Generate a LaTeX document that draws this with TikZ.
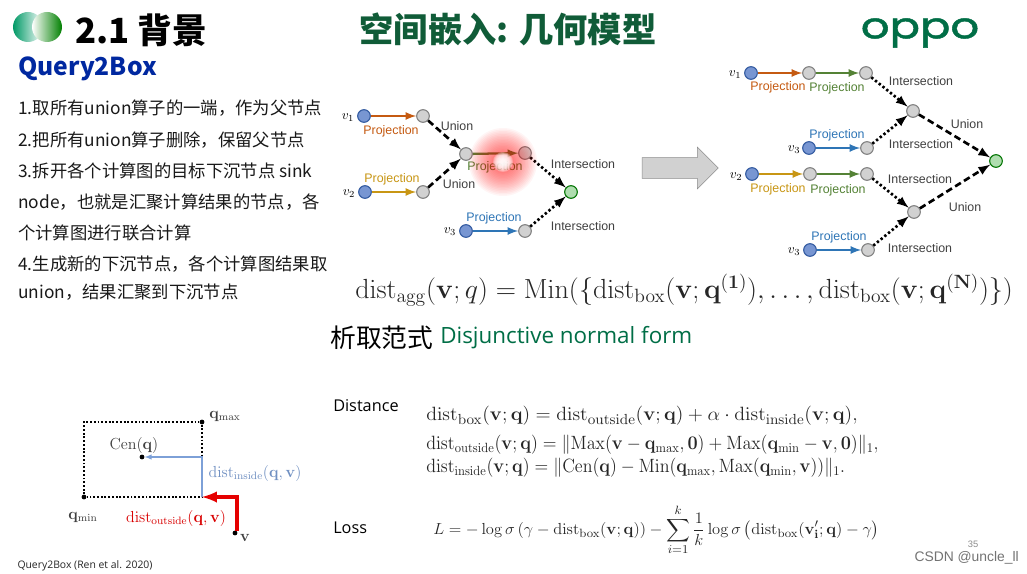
\documentclass[tikz,border=0pt]{standalone}
\usepackage{amsmath}
\usepackage[no-math]{fontspec}
\setmainfont{Noto Sans CJK SC}
\newfontfamily\arialfont{Liberation Sans}
\newfontfamily\opensansfont{Open Sans}
\newfontfamily\oppofont[FakeBold=1.2]{Poppins}
\usetikzlibrary{shapes,arrows,positioning,calc}
\definecolor{oppogreen}{RGB}{0,110,70}
\definecolor{titlegreen}{RGB}{16,92,56}
\definecolor{queryblue}{RGB}{0,40,160}
\definecolor{projorange}{RGB}{197,90,17}
\definecolor{projgreen}{RGB}{84,130,53}
\definecolor{projyellow}{RGB}{200,150,20}
\definecolor{projblue}{RGB}{46,117,182}
\definecolor{insideblue}{RGB}{125,160,215}
\definecolor{anchorfill}{RGB}{120,150,210}
\definecolor{anchordraw}{RGB}{50,90,160}
\newcommand{\dist}{\mathrm{dist}}
\newcommand{\bv}{\mathbf{v}}
\newcommand{\bq}{\mathbf{q}}
\begin{document}
\begin{tikzpicture}[x=0.75pt, y=-0.75pt, >=latex,
    anchornode/.style={circle, draw=anchordraw, fill=anchorfill, line width=0.8pt, minimum size=9.5pt, inner sep=0pt},
    opnode/.style={circle, draw=black!50, fill=black!18, line width=0.8pt, minimum size=9.5pt, inner sep=0pt},
    ansnode/.style={circle, draw=green!45!black, fill=green!40!gray!45, line width=0.8pt, minimum size=9.5pt, inner sep=0pt},
    dotnode/.style={circle, fill=black, minimum size=3.6pt, inner sep=0pt},
    proj/.style={->, line width=1.7pt},
    unionline/.style={->, line width=2pt, dash pattern=on 5pt off 2.8pt},
    interline/.style={->, line width=2pt, dash pattern=on 1.8pt off 1.8pt},
    oplabel/.style={font=\arialfont\fontsize{9.3}{11}\selectfont, text=black!75, inner sep=0pt},
    projlabel/.style={oplabel, text=#1},
    vlabel/.style={font=\fontsize{10}{12}\selectfont, inner sep=0pt},
    bodyline/.style={anchor=west, font=\fontsize{13}{16}\selectfont, inner sep=0pt, text=black!90},
    eqn/.style={anchor=west, inner sep=0pt, text=black!85, xscale=#1, transform shape},
    boxlabel/.style={inner sep=0pt, font=\fontsize{12}{14}\selectfont, text=black!75}]
  \useasboundingbox (0,0) rectangle (1027,574);
  \fill[white] (0,0) rectangle (1027,574);

  % header
  \coordinate (logoa) at (28,27);
  \coordinate (logob) at (47,27);
  \shade[shading angle=45, left color=teal!80!green, right color=white] (logoa) circle (15);
  \shade[shading angle=-45, left color=white, right color=green!50!black] (logob) circle (15);
  \node[anchor=west, inner sep=0pt, font=\bfseries\fontsize{26}{30}\selectfont] (title) at (75,30) {2.1 背景};
  \node[inner sep=0pt, font=\bfseries\fontsize{25.7}{30}\selectfont, text=titlegreen] (topic) at (508,29) {空间嵌入: 几何模型};
  \node[inner sep=0pt, xscale=1.25, transform shape, font=\oppofont\fontsize{27}{30}\selectfont, text=oppogreen] (oppo) at (920,33) {oppo};
  \node[anchor=west, inner sep=0pt, font=\bfseries\fontsize{18.5}{22}\selectfont, text=queryblue] (query) at (18,69) {Query2Box};

  % steps
  \node[bodyline] (s1) at (18,108) {1.取所有union算子的一端，作为父节点};
  \node[bodyline] (s2) at (18,140) {2.把所有union算子删除，保留父节点};
  \node[bodyline] (s3) at (18,171) {3.拆开各个计算图的目标下沉节点 sink};
  \node[bodyline] (s3b) at (18,202) {node，也就是汇聚计算结果的节点，各};
  \node[bodyline] (s3c) at (18,233) {个计算图进行联合计算};
  \node[bodyline] (s4) at (18,264) {4.生成新的下沉节点，各个计算图结果取};
  \node[bodyline] (s4b) at (18,292) {union，结果汇聚到下沉节点};

  % query graph
  \node[anchornode] (v1) at (364,116) {};
  \node[opnode] (p1) at (423,116) {};
  \node[anchornode] (v2) at (365,192) {};
  \node[opnode] (p2) at (423,192) {};
  \node[opnode] (u1) at (466,154) {};
  \node[opnode] (p3) at (525,153) {};
  \node[anchornode] (v3) at (466,231) {};
  \node[opnode] (p4) at (525,231) {};
  \node[ansnode] (ans) at (571,192) {};
  \draw[proj, projorange] (v1) -- (p1);
  \draw[proj, projyellow] (v2) -- (p2);
  \draw[proj, projgreen] (u1) -- (p3);
  \draw[proj, projblue] (v3) -- (p4);
  \draw[unionline] (p1) -- (u1);
  \draw[unionline] (p2) -- (u1);
  \draw[interline] (p3) -- (ans);
  \draw[interline] (p4) -- (ans);
  \node[vlabel] (lv1) at (348,118) {$v_1$};
  \node[vlabel] (lv2) at (349,194) {$v_2$};
  \node[vlabel] (lv3) at (450,232) {$v_3$};
  \node[projlabel=projorange] (l1) at (391,131) {Projection};
  \node[projlabel=projyellow] (l2) at (392,179) {Projection};
  \node[projlabel=projgreen] (l3) at (495,167) {Projection};
  \node[projlabel=projblue] (l4) at (494,218) {Projection};
  \node[oplabel] (l5) at (457,126) {Union};
  \node[oplabel] (l6) at (459,184) {Union};
  \node[oplabel] (l7) at (583,164) {Intersection};
  \node[oplabel] (l8) at (583,226) {Intersection};
  \foreach \r in {34,32.5,...,5}
    \fill[red, opacity=0.04] (503,162) circle (\r);
  \foreach \r in {10,9,...,3}
    \fill[white, opacity=0.3] (503,162) circle (\r);

  \node[single arrow, draw=black!45, fill=black!18, minimum height=57pt, text height=15pt, text width=0pt, single arrow head extend=7.8pt, inner sep=0pt] (bigarrow) at (675,168) {};

  % rewritten graph
  \node[anchornode] (rv1) at (751,73) {};
  \node[opnode] (ra1) at (809,73) {};
  \node[opnode] (rb1) at (866,73) {};
  \node[anchornode] (rv3) at (809,148) {};
  \node[opnode] (rb2) at (867,148) {};
  \node[anchornode] (rv2) at (752,174) {};
  \node[opnode] (ra2) at (810,174) {};
  \node[opnode] (rb3) at (867,174) {};
  \node[anchornode] (rv4) at (810,250) {};
  \node[opnode] (rb4) at (868,250) {};
  \node[opnode] (ri1) at (913,111) {};
  \node[opnode] (ri2) at (914,212) {};
  \node[ansnode] (rans) at (996,161) {};
  \draw[proj, projorange] (rv1) -- (ra1);
  \draw[proj, projgreen] (ra1) -- (rb1);
  \draw[proj, projblue] (rv3) -- (rb2);
  \draw[proj, projyellow] (rv2) -- (ra2);
  \draw[proj, projgreen] (ra2) -- (rb3);
  \draw[proj, projblue] (rv4) -- (rb4);
  \draw[interline] (rb1) -- (ri1);
  \draw[interline] (rb2) -- (ri1);
  \draw[interline] (rb3) -- (ri2);
  \draw[interline] (rb4) -- (ri2);
  \draw[unionline] (ri1) -- (rans);
  \draw[unionline] (ri2) -- (rans);
  \node[vlabel] (rl1) at (735,75) {$v_1$};
  \node[vlabel] (rl2) at (794,150) {$v_3$};
  \node[vlabel] (rl3) at (736,177) {$v_2$};
  \node[vlabel] (rl4) at (794,252) {$v_3$};
  \node[projlabel=projorange] (rp1) at (778,87) {Projection};
  \node[projlabel=projgreen] (rp2) at (837,88) {Projection};
  \node[projlabel=projblue] (rp3) at (837,135) {Projection};
  \node[projlabel=projyellow] (rp4) at (778,189) {Projection};
  \node[projlabel=projgreen] (rp5) at (838,190) {Projection};
  \node[projlabel=projblue] (rp6) at (839,237) {Projection};
  \node[oplabel] (ro1) at (921,81) {Intersection};
  \node[oplabel] (ro2) at (921,144) {Intersection};
  \node[oplabel] (ro3) at (920,179) {Intersection};
  \node[oplabel] (ro4) at (920,248) {Intersection};
  \node[oplabel] (ro5) at (967,124) {Union};
  \node[oplabel] (ro6) at (965,207) {Union};

  % formulas
  \node[eqn=1.015, font=\fontsize{20.5}{24}\selectfont] (agg) at (355,290) {$\dist_{\mathrm{agg}}(\bv;q)=\mathrm{Min}(\{\dist_{\mathrm{box}}(\bv;\bq^{(\mathbf{1})}),\dots,\dist_{\mathrm{box}}(\bv;\bq^{(\mathbf{N})})\})$};
  \node[anchor=west, inner sep=0pt, font=\fontsize{19.3}{23}\selectfont] (dnfzh) at (330,338) {析取范式};
  \node[anchor=west, inner sep=0pt, font=\opensansfont\fontsize{16.8}{20}\selectfont, text=oppogreen] (dnf) at (440,338) {Disjunctive normal form};
  \node[anchor=west, inner sep=0pt, font=\opensansfont\fontsize{12.2}{14}\selectfont] (distance) at (333,406) {Distance};
  \node[anchor=west, inner sep=0pt, font=\opensansfont\fontsize{12.2}{14}\selectfont] (loss) at (333,528) {Loss};
  \node[eqn=1.036, font=\fontsize{15.6}{18}\selectfont] (eqbox) at (426,416) {$\dist_{\mathrm{box}}(\bv;\bq)=\dist_{\mathrm{outside}}(\bv;\bq)+\alpha\cdot\dist_{\mathrm{inside}}(\bv;\bq),$};
  \node[eqn=0.94, font=\fontsize{14}{16}\selectfont] (eqout) at (426,445) {$\dist_{\mathrm{outside}}(\bv;\bq)=\|\mathrm{Max}(\bv-\bq_{\mathrm{max}},\mathbf{0})+\mathrm{Max}(\bq_{\mathrm{min}}-\bv,\mathbf{0})\|_1,$};
  \node[eqn=0.935, font=\fontsize{14}{16}\selectfont] (eqin) at (426,468) {$\dist_{\mathrm{inside}}(\bv;\bq)=\|\mathrm{Cen}(\bq)-\mathrm{Min}(\bq_{\mathrm{max}},\mathrm{Max}(\bq_{\mathrm{min}},\bv))\|_1.$};
  \node[eqn=1.03, font=\fontsize{12.4}{15}\selectfont] (eqloss) at (433,530) {$L=-\log\sigma\left(\gamma-\dist_{\mathrm{box}}(\bv;\bq)\right)-\displaystyle\sum_{i=1}^{k}\frac{1}{k}\log\sigma\left(\dist_{\mathrm{box}}(\bv_{\mathbf{i}}';\bq)-\gamma\right)$};

  % box figure
  \node[dotnode] (qmin) at (84,497) {};
  \node[dotnode] (qmax) at (202,422) {};
  \node[dotnode] (cen) at (142,457) {};
  \node[dotnode] (vpt) at (235,533) {};
  \coordinate (boxtl) at (84,422);
  \coordinate (boxbr) at (202,497);
  \coordinate (insidept) at (202,457);
  \draw[line width=1.5pt, dash pattern=on 1.4pt off 1.4pt] (qmin) -- (boxtl) -- (qmax) -- (boxbr) -- (qmin);
  \draw[->, insideblue, line width=0.8pt] (boxbr) -- (insidept) -- (cen);
  \draw[->, red!90!black, line width=2.8pt] (vpt.north east) |- (boxbr);
  \node[boxlabel] (lmax) at (225,416) {$\bq_{\mathrm{max}}$};
  \node[boxlabel] (lmin) at (83,517) {$\bq_{\mathrm{min}}$};
  \node[boxlabel] (lcen) at (134,445) {$\mathrm{Cen}(\bq)$};
  \node[boxlabel, text=insideblue!90!black] (linside) at (255,473) {$\dist_{\mathrm{inside}}(\bq,\bv)$};
  \node[boxlabel, text=red!85!black] (loutside) at (176,518) {$\dist_{\mathrm{outside}}(\bq,\bv)$};
  \node[boxlabel] (lv) at (245,538) {$\bv$};
  \node[inner sep=0pt, font=\opensansfont\fontsize{7.8}{9}\selectfont, text=black!85] (cite) at (85,566) {Query2Box (Ren et al. 2020)};

  % footer
  \node[inner sep=0pt, font=\arialfont\fontsize{7}{9}\selectfont, text=black!45] (pageno) at (973,544) {35};
  \node[anchor=east, inner sep=0pt, font=\arialfont\fontsize{10.4}{12}\selectfont, text=black!55] (csdn) at (1019,558) {CSDN @uncle\_ll};
\end{tikzpicture}
\end{document}
